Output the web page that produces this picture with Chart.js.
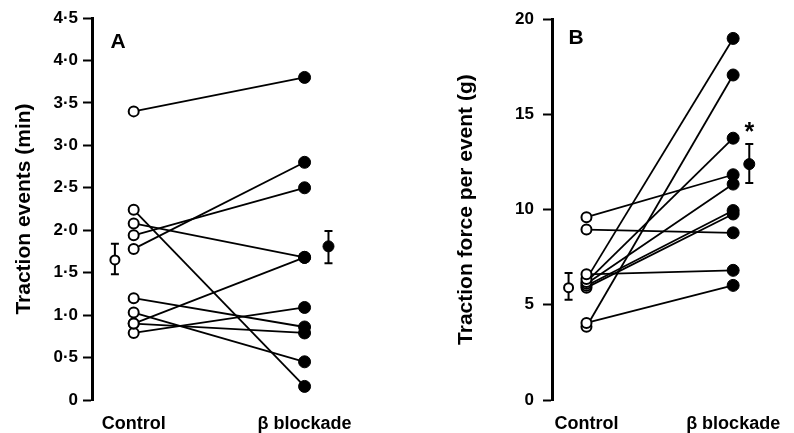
<!DOCTYPE html>
<html>
<head>
<meta charset="utf-8">
<script src="https://cdn.jsdelivr.net/npm/chart.js@4.4.1/dist/chart.umd.min.js"></script>
<style>
  body { margin: 0; background: #fff; }
  #wrap { position: relative; width: 794px; height: 433px; }
  canvas { position: absolute; top: 0; }
  #panelA { left: 0; }
  #panelB { left: 397px; }
</style>
</head>
<body>
<div id="wrap">
  <canvas id="panelA" width="397" height="433"></canvas>
  <canvas id="panelB" width="397" height="433"></canvas>
</div>
<script>
// groups on the x axis
const groups = ['Control', 'β blockade'];
const groupX = [1, 2];

// panel A - traction events (min), one value per subject
const eventsControl  = [3.4, 2.24, 2.08, 1.94, 1.78, 1.2, 1.03, 0.9, 0.9, 0.79];
const eventsBlockade = [3.8, 0.16, 1.68, 2.5, 2.8, 0.86, 0.45, 1.68, 0.79, 1.09];
const eventsMean = [1.65, 1.81];
const eventsErrLow = [1.48, 1.61];
const eventsErrHigh = [1.84, 1.99];
const eventsMeanX = [0.89, 2.14];
const eventsTicks = [0, 0.5, 1, 1.5, 2, 2.5, 3, 3.5, 4, 4.5];

// panel B - traction force per event (g)
const forceControl  = [9.6, 8.95, 6.6, 6.35, 6.2, 6.1, 6.0, 5.9, 4.05, 3.85];
const forceBlockade = [11.83, 8.78, 6.81, 18.99, 13.75, 11.34, 9.95, 9.77, 6.02, 17.07];
const forceMean = [5.9, 12.39];
const forceErrLow = [5.27, 11.4];
const forceErrHigh = [6.67, 13.44];
const forceMeanX = [0.878, 2.11];
const forceTicks = [0, 5, 10, 15, 20];

const FONT = '"Liberation Sans", Arial, Helvetica, sans-serif';

const errorBars = {
  id: 'errorBars',
  beforeDatasetsDraw(chart, args, o) {
    const {ctx, scales: {x, y}} = chart;
    ctx.save();
    ctx.strokeStyle = '#000';
    ctx.lineWidth = 2;
    o.mx.forEach((mx, i) => {
      const px = x.getPixelForValue(mx);
      const lo = y.getPixelForValue(o.low[i]);
      const hi = y.getPixelForValue(o.high[i]);
      ctx.beginPath();
      ctx.moveTo(px, lo); ctx.lineTo(px, hi);
      ctx.moveTo(px - 4, lo); ctx.lineTo(px + 4, lo);
      ctx.moveTo(px - 4, hi); ctx.lineTo(px + 4, hi);
      ctx.stroke();
    });
    ctx.restore();
  },
  afterDraw(chart, args, o) {
    const {ctx, chartArea, scales: {x, y}} = chart;
    ctx.save();
    ctx.fillStyle = '#000';
    ctx.textAlign = 'center';
    ctx.textBaseline = 'middle';
    ctx.font = 'bold 21px ' + FONT;
    ctx.fillText(o.letter, chartArea.left + o.letterDx, chartArea.top + o.letterDy);
    if (o.star) {
      ctx.font = 'bold 25px ' + FONT;
      ctx.fillText('*', x.getPixelForValue(o.mx[1]), y.getPixelForValue(o.high[1]) - 11);
    }
    ctx.restore();
  }
};

function makePanel(id, p) {
  const datasets = p.control.map((c, i) => ({
    data: [{x: groupX[0], y: c}, {x: groupX[1], y: p.blockade[i]}],
    borderColor: '#000',
    borderWidth: 1.8,
    pointRadius: [5, 6],
    pointBackgroundColor: ['#fff', '#000'],
    pointBorderColor: '#000',
    pointBorderWidth: [2, 1]
  }));
  datasets.push({
    data: p.mean.map((m, i) => ({x: p.meanX[i], y: m})),
    showLine: false,
    pointRadius: [4.5, 5.5],
    pointBackgroundColor: ['#fff', '#000'],
    pointBorderColor: '#000',
    pointBorderWidth: [2, 1]
  });

  return new Chart(document.getElementById(id), {
    type: 'line',
    data: {datasets},
    plugins: [errorBars],
    options: {
      responsive: false,
      animation: false,
      layout: {padding: {top: 18, right: 4, bottom: 0, left: 0}},
      plugins: {
        legend: {display: false},
        tooltip: {enabled: false},
        errorBars: {mx: p.meanX, low: p.errLow, high: p.errHigh, letter: p.letter,
                    letterDx: p.letterDx, letterDy: p.letterDy, star: p.star}
      },
      scales: {
        x: {
          type: 'linear',
          min: p.xmin,
          max: p.xmax,
          afterBuildTicks: s => { s.ticks = groupX.map(v => ({value: v})); },
          afterFit: s => { s.height = 33; },
          ticks: {
            callback: (v, i) => groups[i],
            autoSkip: false,
            maxRotation: 0,
            padding: 13,
            color: '#000',
            font: {family: FONT, size: 18, weight: 'bold'}
          },
          grid: {display: false, drawTicks: false},
          border: {display: false}
        },
        y: {
          min: p.ticks[0],
          max: p.ticks[p.ticks.length - 1],
          afterBuildTicks: s => { s.ticks = p.ticks.map(v => ({value: v})); },
          afterFit: s => { s.width = p.axisLeft; },
          ticks: {
            callback: v => p.fmt(v),
            padding: p.tickPad,
            color: '#000',
            font: {family: FONT, size: 17, weight: 'bold'}
          },
          grid: {drawOnChartArea: false, tickLength: 9, tickWidth: 2, tickColor: '#000'},
          border: {display: true, width: 3, color: '#000'},
          title: {
            display: true,
            text: p.title,
            color: '#000',
            padding: {top: p.titlePad, bottom: 0},
            font: {family: FONT, size: 21, weight: 'bold'}
          }
        }
      }
    }
  });
}

makePanel('panelA', {
  control: eventsControl, blockade: eventsBlockade,
  mean: eventsMean, errLow: eventsErrLow, errHigh: eventsErrHigh, meanX: eventsMeanX,
  ticks: eventsTicks,
  fmt: v => v === 0 ? '0' : v.toFixed(1).replace('.', '·'),
  title: 'Traction events (min)',
  xmin: 0.756, xmax: 2.5, axisLeft: 92, tickPad: 5, titlePad: 12,
  letter: 'A', letterDx: 26, letterDy: 24, star: false
});

makePanel('panelB', {
  control: forceControl, blockade: forceBlockade,
  mean: forceMean, errLow: forceErrLow, errHigh: forceErrHigh, meanX: forceMeanX,
  ticks: forceTicks,
  fmt: v => String(v),
  title: 'Traction force per event (g)',
  xmin: 0.765, xmax: 2.17, axisLeft: 155, tickPad: 9, titlePad: 57,
  letter: 'B', letterDx: 24, letterDy: 19, star: true
});
</script>
</body>
</html>
